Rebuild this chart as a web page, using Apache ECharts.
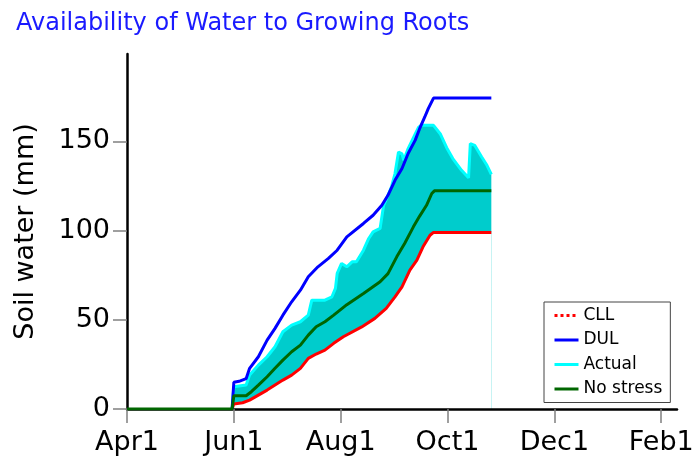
<!DOCTYPE html>
<html>
<head>
<meta charset="utf-8">
<script src="https://cdn.jsdelivr.net/npm/echarts@6/dist/echarts.min.js"></script>
<style>
  html, body { margin: 0; padding: 0; background: #fff; }
  #chart { width: 698px; height: 463px; }
</style>
</head>
<body>
<div id="chart"></div>
<script>
// x is days after Apr1
var xTickDays = [0, 61, 122, 183, 244, 305];
var xTickLabels = ['Apr1', 'Jun1', 'Aug1', 'Oct1', 'Dec1', 'Feb1'];
var yTicks = [0, 50, 100, 150];

var cll = [[60,0],[61,2.8],[66,3.5],[70,5],[75,7.8],[80,10.6],[84.5,13.4],[89,16.2],[94,19],[99,22.8],
    [103.5,28.4],[108,30.8],[113,33],[118,36.8],[123.5,40.5],[134,46],[141.5,50.8],[148,56.4],[153,62.9],
    [157,68.5],[161.5,77.8],[165.5,83.4],[169,90.9],[173,97.4],[175,99],[208,99]];

var dul = [[60,0],[61,15],[64,15.5],[68,17],[70,22.8],[75,29.3],[80,38.6],[84.5,45.2],[89,52.6],[94,60.1],
    [99,66.6],[103.5,74.1],[109,79.7],[115,84.4],[120,89],[125.5,96.5],[135,104],[140.5,108.6],[145.5,114.2],
    [149,119.8],[153,128.2],[157,134.8],[160.5,143.2],[164.5,150.6],[167,157],[170,163.7],[172,168.4],
    [175,174.3],[208,174.3]];

var actual = [[60,0],[61,12.5],[68,13.5],[70,19],[75,24.6],[80,29.3],[84.5,34.9],[89,43.3],[94,47],[99,48.9],
    [103.5,52.6],[105.5,61],[109,61],[113,61],[117,62.9],[119,67.6],[120,76],[122.5,81.6],[125.5,79.7],
    [128.5,82.5],[131,82.5],[135,89],[138,95.6],[140.5,99.3],[144.5,101.2],[146.5,114.2],[149,119.8],
    [151,124.5],[153,132],[155,144],[157,143],[158,139.4],[160.5,146],[164.5,154],[166.5,158],[168,159],
    [175,159],[179,154],[182.5,146.5],[186,140.4],[191,133.8],[195,129.6],[196,148.8],[198.5,147.8],
    [202.5,141.3],[205.5,136.6],[208,131.5]];

var noStress = [[0,0],[60,0],[61,7.4],[68,7.4],[71,9.7],[75,13.4],[80,18.1],[84.5,22.8],[89,27.4],[94,32.1],
    [99,35.8],[103.5,41.4],[108,46.1],[113,48.9],[118,52.6],[125.5,58.5],[135,64.8],[144.5,71.3],[149,75.9],
    [154,85.3],[158.5,92.8],[163.5,102.1],[167,108],[171,114.2],[174,120.8],[175.5,122.3],[208,122.3]];

var font = 'DejaVu Sans';

var myChart = echarts.init(document.getElementById('chart'));
var option = {
    animation: false,
    title: {
        text: 'Availability of Water to Growing Roots',
        left: 16,
        top: 12,
        padding: 0,
        textStyle: { color: '#1a1aff', fontSize: 24, fontWeight: 'normal', fontFamily: font }
    },
    legend: {
        orient: 'vertical',
        left: 544,
        top: 302,
        padding: [5, 8, 5, 9],
        itemWidth: 24,
        itemHeight: 12,
        itemGap: 7.5,
        borderColor: '#444',
        borderWidth: 1,
        backgroundColor: '#fff',
        itemStyle: { opacity: 0 },  // line only, no dot
        lineStyle: { width: 3 },
        textStyle: { fontSize: 17, fontFamily: font, color: '#000' },
        data: [
            { name: 'CLL', lineStyle: { type: [3, 3], width: 3 } },
            'DUL', 'Actual', 'No stress'
        ]
    },
    grid: { left: 127, right: 21, top: 54, bottom: 54 },
    xAxis: {
        type: 'value',
        min: 0,
        max: 314,
        z: 2,
        axisLine: { lineStyle: { color: '#000', width: 2.5 } },
        axisTick: { length: 14, customValues: xTickDays, lineStyle: { color: '#808080', width: 1.5 } },
        axisLabel: {
            customValues: xTickDays,
            margin: 20,
            color: '#000',
            fontSize: 27,
            fontFamily: font,
            formatter: function (v) {
                var i = xTickDays.indexOf(v);
                return i < 0 ? '' : xTickLabels[i];
            }
        },
        splitLine: { show: false }
    },
    yAxis: {
        type: 'value',
        min: 0,
        max: 199,
        z: 2,
        name: 'Soil water (mm)',
        nameLocation: 'middle',
        nameGap: 88,
        nameTextStyle: { color: '#000', fontSize: 27, fontFamily: font },
        axisLine: { lineStyle: { color: '#000', width: 2.5 } },
        axisTick: { length: 14, customValues: yTicks, lineStyle: { color: '#808080', width: 1.5 } },
        axisLabel: { customValues: yTicks, margin: 17, color: '#000', fontSize: 27, fontFamily: font },
        splitLine: { show: false }
    },
    series: [
        {
            name: 'Actual',
            type: 'line',
            z: 1,
            symbol: 'none',
            data: actual,
            itemStyle: { color: '#00ffff' },
            lineStyle: { color: '#00ffff', width: 3 },
            areaStyle: { color: '#00cccc', opacity: 1 }
        },
        {
            name: 'CLL',
            type: 'line',
            z: 1,
            symbol: 'none',
            data: cll,
            itemStyle: { color: '#ff0000' },
            lineStyle: { color: '#ff0000', width: 3 },
            // white fill hides the cyan below the lower limit
            areaStyle: { color: '#ffffff', opacity: 1 }
        },
        {
            name: 'DUL',
            type: 'line',
            z: 3,
            symbol: 'none',
            data: dul,
            itemStyle: { color: '#0000ff' },
            lineStyle: { color: '#0000ff', width: 3 }
        },
        {
            name: 'No stress',
            type: 'line',
            z: 3,
            symbol: 'none',
            data: noStress,
            itemStyle: { color: '#006600' },
            lineStyle: { color: '#006600', width: 3 }
        }
    ]
};
myChart.setOption(option);
window.addEventListener('resize', function () { myChart.resize(); });
</script>
</body>
</html>
